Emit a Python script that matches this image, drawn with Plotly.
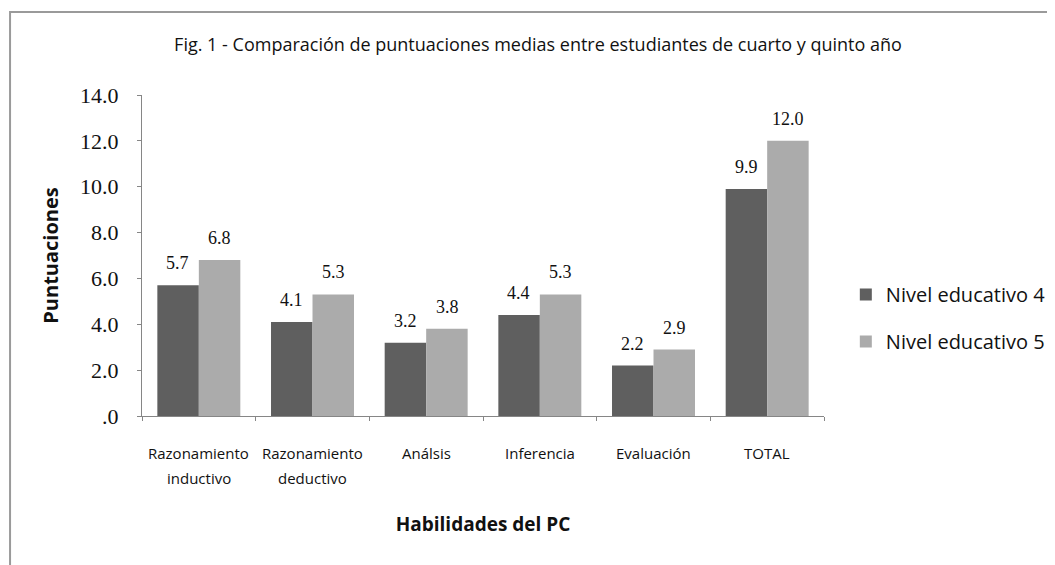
import plotly.graph_objects as go

categories = ["Razonamiento inductivo", "Razonamiento deductivo", "Análsis",
              "Inferencia", "Evaluación", "TOTAL"]
label_line1 = ["Razonamiento", "Razonamiento", "Análsis", "Inferencia", "Evaluación", "TOTAL"]
label_line2 = ["inductivo", "deductivo", "", "", "", ""]
nivel4 = [5.7, 4.1, 3.2, 4.4, 2.2, 9.9]
nivel5 = [6.8, 5.3, 3.8, 5.3, 2.9, 12.0]
series_names = ["Nivel educativo 4", "Nivel educativo 5"]
ytick_vals = [0, 2, 4, 6, 8, 10, 12, 14]
ytick_text = [".0", "2.0", "4.0", "6.0", "8.0", "10.0", "12.0", "14.0"]

serif = "Liberation Serif"
sans = "Open Sans"
ink = "#111111"

# pixel geometry of plot area inside the figure (page offset of 8px accounted)
L, R, T, B = 134, 824, 87, 408
W, H = R - L, B - T

fig = go.Figure()
fig.add_trace(go.Bar(x=categories, y=nivel4, name=series_names[0], legendgroup="a",
                     marker=dict(color="#5f5f5f", line=dict(width=0))))
fig.add_trace(go.Bar(x=categories, y=nivel5, name=series_names[1], legendgroup="b",
                     marker=dict(color="#ababab", line=dict(width=0))))

annotations = []
# value labels
for vals, dx in ((nivel4, -21), (nivel5, 21)):
    for c, v in zip(categories, vals):
        annotations.append(dict(x=c, y=v, xref="x", yref="y", text=f"{v:.1f}",
                                showarrow=False, xshift=dx, yshift=10, yanchor="bottom",
                                font=dict(family=serif, size=18, color=ink)))
# category labels (two lines)
for c, l1, l2 in zip(categories, label_line1, label_line2):
    annotations.append(dict(x=c, y=(B - 445) / H, xref="x", yref="paper", text=l1,
                            showarrow=False, yanchor="middle",
                            font=dict(family=sans, size=15, color=ink)))
    if l2:
        annotations.append(dict(x=c, y=(B - 470) / H, xref="x", yref="paper", text=l2,
                                showarrow=False, yanchor="middle",
                                font=dict(family=sans, size=15, color=ink)))

fig.update_layout(
    width=1055, height=565,
    margin=dict(l=L, r=1055 - R, t=T, b=565 - B),
    paper_bgcolor="white", plot_bgcolor="white",
    barmode="group", bargap=0.27, bargroupgap=0,
    title=dict(text="Fig. 1 - Comparación de puntuaciones medias entre estudiantes de cuarto y quinto año",
               x=530 / 1055, xanchor="center", y=1 - 37 / 565, yanchor="middle",
               font=dict(family=sans, size=18, color=ink)),
    xaxis=dict(showline=True, linecolor="#868686", linewidth=1,
               showticklabels=False, ticks="outside", tickson="boundaries",
               ticklen=4, tickcolor="#868686",
               title=dict(text="<b>Habilidades del PC</b>", standoff=101,
                          font=dict(family=sans, size=19, color=ink))),
    yaxis=dict(range=[0, 14], tickvals=ytick_vals, ticktext=ytick_text,
               showgrid=False, zeroline=False,
               showline=True, linecolor="#868686", linewidth=1,
               ticks="outside", ticklen=4, tickcolor="#868686",
               ticklabelstandoff=14,
               tickfont=dict(family=serif, size=22, color=ink),
               title=dict(text="<b>Puntuaciones</b>", standoff=16,
                          font=dict(family=sans, size=20, color=ink))),
    legend=dict(x=1.032, y=(B - 310) / H, xanchor="left", yanchor="middle",
                font=dict(family=sans, size=20, color=ink),
                tracegroupgap=18, itemwidth=30),
    annotations=annotations,
    shapes=[dict(type="rect", xref="paper", yref="paper",
                 x0=(0.5 - L) / W, x1=(1070 - L) / W,
                 y0=(B - 580) / H, y1=(B - 4) / H,
                 line=dict(color="#9a9a9a", width=2), fillcolor="rgba(0,0,0,0)",
                 layer="below")],
)

fig.write_html("out.html")
